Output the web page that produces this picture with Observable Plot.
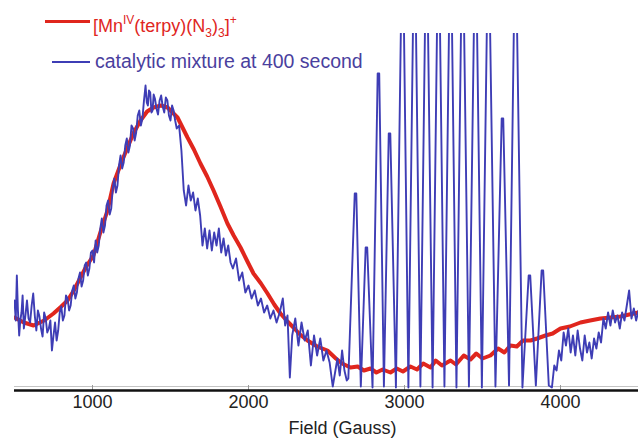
<!DOCTYPE html>
<html>
<head>
<meta charset="utf-8">
<script src="https://cdn.jsdelivr.net/npm/d3@7"></script>
<script src="https://cdn.jsdelivr.net/npm/@observablehq/plot@0.6"></script>
<style>
  html, body { margin: 0; padding: 0; background: #fff; }
  #wrap { position: relative; width: 638px; height: 439px; font-family: "Liberation Sans", Arial, sans-serif; }
  #wrap svg { position: absolute; left: 0; top: 0; }
  .lg-line { position: absolute; }
  .lg-text { position: absolute; white-space: nowrap; line-height: 19px; }
  .sup { position: relative; top: -8px; font-size: 12px; }
  .sub { position: relative; top: 5px; font-size: 12px; }
</style>
</head>
<body>
<div id="wrap"></div>
<script>
// ---- data (intensity in arbitrary units, field in Gauss) ----
const xTicks = [1000, 2000, 3000, 4000];
const xDomain = [500, 4500];
const yDomain = [0, 357];
const xLabel = "Field (Gauss)";
const blueName = "catalytic mixture at 400 second";

// [Mn(IV)(terpy)(N3)3]+ reference spectrum
const redTrace = [
  [500,73],[560,68],[622,65],[690,70],[750,77],[800,84],[840,90],[880,100],[923,113],[960,124],
  [1006,135],[1050,158],[1096,180],[1135,207],[1180,226],[1224,243],[1265,258],[1308,270],[1350,279],
  [1391,283],[1440,285],[1481,283],[1545,273],[1609,253],[1650,241],[1692,227],[1735,214],[1776,200],
  [1820,184],[1865,167],[1905,155],[1949,143],[1990,130],[2032,117],[2080,107],[2122,97],[2165,86],
  [2205,77],[2250,69],[2288,63],[2330,56],[2378,50],[2440,44],[2506,40],[2560,32],[2600,27],[2654,23],
  [2700,24],[2740,20],[2782,22],[2820,18],[2860,21],[2910,18],[2950,22],[2990,19],[3038,24],[3080,21],
  [3120,27],[3167,23],[3200,30],[3240,25],[3295,30],[3330,26],[3380,35],[3423,31],[3460,37],[3500,32],
  [3551,35],[3600,42],[3640,38],[3679,45],[3720,44],[3760,50],[3808,50],[3850,52],[3904,55],[3950,57],
  [4000,62],[4060,64],[4128,68],[4190,70],[4256,72],[4320,73],[4385,74],[4440,76],[4500,78]
];

// catalytic mixture at 400 s
const blueTrace = [
  [500,90],[508,70],[515,115],[522,80],[530,55],[537,70],[545,78],[552,95],[560,62],[570,75],
  [580,90],[590,72],[600,68],[610,85],[620,97],[630,75],[640,60],[650,80],[660,74],[670,62],
  [680,54],[690,78],[700,72],[710,58],[720,62],[730,70],[740,40],[750,55],[760,68],[770,50],
  [780,60],[790,78],[800,84],[810,70],[820,75],[830,95],[840,92],[850,80],[860,85],[870,100],
  [880,105],[890,92],[900,98],[910,112],[920,118],[930,104],[940,110],[950,125],[960,128],[970,115],
  [980,122],[990,138],[1000,140],
  [1010,128],[1020,150],[1030,138],[1040,145],[1050,162],[1060,172],[1070,158],[1080,165],[1090,185],
  [1100,190],[1110,176],[1120,182],[1130,202],[1140,212],[1150,198],[1160,205],[1170,225],[1180,235],
  [1190,222],[1200,228],[1210,245],[1220,252],[1230,238],[1240,245],[1250,265],[1260,262],[1270,250],
  [1280,258],[1290,275],[1300,280],[1310,265],[1320,272],[1330,290],[1340,305],[1348,288],[1355,285],
  [1362,300],[1370,298],[1378,278],[1385,280],[1392,296],[1400,292],[1410,282],[1420,276],[1430,290],
  [1440,295],[1450,284],[1460,278],[1470,293],[1480,290],[1490,275],[1500,270],[1510,285],[1520,280],
  [1530,270],[1540,262],
  [1555,265],[1570,240],[1585,200],[1600,185],[1615,205],[1630,190],[1645,198],[1660,180],
  [1675,192],[1690,175],[1705,145],[1720,162],[1735,142],[1750,160],[1765,140],[1780,158],[1795,145],
  [1810,162],[1825,138],[1840,152],[1855,135],[1870,145],[1885,128],[1900,122],[1920,132],[1940,110],
  [1960,118],[1980,98],[2000,105],[2020,92],[2040,100],[2060,85],[2080,92],[2100,78],[2120,85],
  [2140,72],[2160,80],[2180,68],[2200,78],[2220,92],[2235,65],[2250,75],[2265,13],[2280,55],[2300,72],
  [2320,45],[2340,68],[2360,50],[2380,60],[2400,25],[2420,55],[2440,35],[2460,52],[2480,30],[2500,40],
  [2520,28],[2540,4],[2555,18],[2570,32],[2585,15],[2600,40],[2615,20],[2630,10],
  [2640,12],[2681,197],[2691,197],[2720,4],[2751,143],[2761,143],[2795,3],[2828,317],[2838,317],
  [2868,4],[2899,257],[2909,257],[2945,3],[2982,420],[2992,420],[3025,3],[3059,420],[3069,420],
  [3102,4],[3136,420],[3146,420],[3180,3],[3213,420],[3223,420],[3256,4],[3290,420],[3300,420],
  [3333,3],[3367,420],[3377,420],[3413,4],[3450,420],[3460,420],[3496,3],[3533,420],[3543,420],
  [3583,4],[3623,272],[3633,272],[3670,5],[3706,420],[3716,420],[3756,3],[3796,115],[3806,115],
  [3842,5],[3879,120],[3889,120],[3925,5],
  [3945,3],[3960,25],[3975,20],[3990,40],[4005,30],[4020,58],[4035,45],[4050,62],[4065,38],[4080,55],
  [4095,35],[4110,60],[4125,42],[4140,30],[4155,55],[4170,38],[4185,48],[4200,32],[4215,52],[4230,42],
  [4245,58],[4260,48],[4275,72],[4290,62],[4305,78],[4320,65],[4335,80],[4350,68],[4365,75],[4380,62],
  [4395,78],[4410,70],[4425,85],[4440,100],[4455,72],[4470,82],[4485,70],[4500,80]
];

const RED = "#e0261d";
const BLUE = "#3e3db5";

const chart = Plot.plot({
  width: 638,
  height: 439,
  marginLeft: 14,
  marginRight: 0,
  marginTop: 33,
  marginBottom: 49,
  style: {fontFamily: "Liberation Sans, Arial, sans-serif", background: "transparent"},
  x: {domain: xDomain},
  y: {domain: yDomain, axis: null},
  marks: [
    Plot.ruleY([4], {stroke: "#b5b5b5", strokeWidth: 0.8}),
    Plot.ruleX(xTicks, {y1: 0, y2: 5, stroke: "#999", strokeWidth: 1}),
    Plot.line(redTrace, {x: d => d[0], y: d => d[1], stroke: RED, strokeWidth: 4, clip: true}),
    Plot.line(blueTrace, {x: d => d[0], y: d => d[1], stroke: BLUE, strokeWidth: 1.9, clip: true}),
    Plot.ruleY([0], {stroke: "#111", strokeWidth: 2.5}),
    Plot.axisX({ticks: xTicks, tickSize: 0, tickPadding: 5, tickFormat: d => String(d), fontSize: 18, fill: "#222", label: null}),
    Plot.text([xLabel], {frameAnchor: "bottom", lineAnchor: "top", dy: 31, dx: 16, fontSize: 18, fill: "#222", text: d => d})
  ]
});

const wrap = document.getElementById("wrap");
wrap.appendChild(chart);

// legend overlay
function add(html, cls, style) {
  const el = document.createElement("div");
  el.className = cls;
  el.innerHTML = html;
  Object.assign(el.style, style);
  wrap.appendChild(el);
}
add("", "lg-line", {left: "45px", top: "20px", width: "45px", height: "3px", background: RED});
add('[Mn<span class="sup">IV</span>(terpy)(N<span class="sub">3</span>)<span class="sub">3</span>]<span class="sup">+</span>',
    "lg-text", {left: "93px", top: "17px", fontSize: "18px", color: RED});
add("", "lg-line", {left: "52px", top: "61px", width: "38px", height: "2px", background: BLUE});
add(blueName, "lg-text", {left: "95px", top: "52px", fontSize: "19.5px", color: "#4a3f9e"});
</script>
</body>
</html>
